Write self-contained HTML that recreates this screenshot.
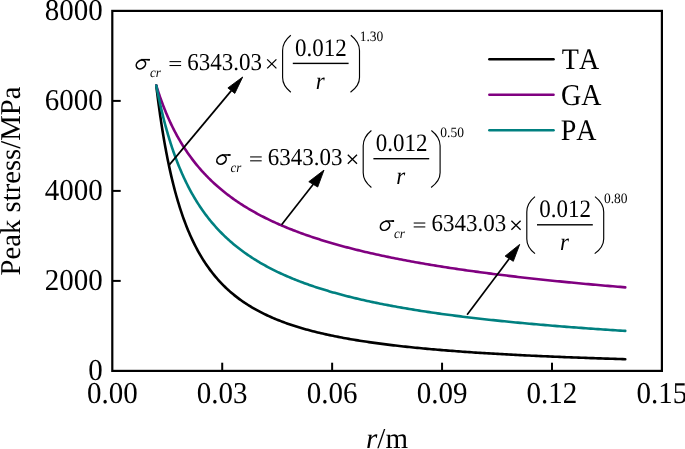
<!DOCTYPE html>
<html><head><meta charset="utf-8"><style>
html,body{margin:0;padding:0;background:#fff;}
svg{display:block;will-change:transform;}
text{font-family:"Liberation Serif",serif;fill:#000;font-kerning:none;text-rendering:geometricPrecision;}
</style></head><body>
<svg width="685" height="449" viewBox="0 0 685 449">
<rect x="0" y="0" width="685" height="449" fill="#fff"/>
<polyline points="156.27,85.46 156.32,85.89 156.42,86.76 156.56,87.94 156.74,89.37 156.94,91.02 157.17,92.86 157.42,94.87 157.69,97.03 157.98,99.32 158.30,101.74 158.63,104.26 158.99,106.89 159.36,109.59 159.75,112.37 160.15,115.22 160.58,118.13 161.02,121.09 161.47,124.08 161.94,127.12 162.43,130.18 162.93,133.27 163.44,136.37 163.97,139.49 164.51,142.61 165.07,145.73 165.64,148.85 166.22,151.97 166.82,155.08 167.43,158.18 168.05,161.26 168.68,164.32 169.33,167.36 169.99,170.38 170.66,173.37 171.34,176.34 172.04,179.27 172.75,182.18 173.46,185.06 174.19,187.90 174.93,190.71 175.69,193.49 176.45,196.23 177.22,198.93 178.01,201.60 178.81,204.23 179.61,206.82 180.43,209.37 181.26,211.89 182.10,214.37 182.94,216.81 183.80,219.21 184.67,221.57 185.55,223.90 186.44,226.18 187.34,228.43 188.25,230.64 189.17,232.82 190.09,234.96 191.03,237.06 191.98,239.12 192.94,241.15 193.90,243.15 194.88,245.11 195.86,247.03 196.86,248.92 197.86,250.78 198.88,252.60 199.90,254.40 200.93,256.15 201.97,257.88 203.02,259.58 204.08,261.24 205.14,262.88 206.22,264.48 207.30,266.06 208.40,267.61 209.50,269.13 210.61,270.62 211.73,272.08 212.85,273.52 213.99,274.93 215.14,276.32 216.29,277.68 217.45,279.02 218.62,280.33 219.80,281.62 220.98,282.88 222.18,284.12 223.38,285.34 224.59,286.54 225.81,287.71 227.04,288.87 228.27,290.00 229.51,291.12 230.76,292.21 232.02,293.28 233.29,294.34 234.56,295.37 235.85,296.39 237.14,297.39 238.43,298.37 239.74,299.34 241.05,300.28 242.37,301.21 243.70,302.13 245.04,303.03 246.38,303.91 247.73,304.78 249.09,305.63 250.46,306.47 251.83,307.29 253.21,308.10 254.60,308.90 256.00,309.68 257.40,310.45 258.81,311.20 260.23,311.95 261.65,312.68 263.09,313.39 264.53,314.10 265.97,314.79 267.43,315.48 268.89,316.15 270.36,316.81 271.83,317.46 273.32,318.10 274.81,318.73 276.30,319.34 277.81,319.95 279.32,320.55 280.84,321.14 282.36,321.72 283.89,322.29 285.43,322.85 286.98,323.40 288.53,323.94 290.09,324.48 291.66,325.01 293.23,325.52 294.81,326.03 296.40,326.54 297.99,327.03 299.59,327.52 301.20,328.00 302.81,328.47 304.43,328.93 306.06,329.39 307.69,329.84 309.33,330.28 310.98,330.72 312.63,331.15 314.29,331.58 315.96,331.99 317.63,332.41 319.31,332.81 321.00,333.21 322.69,333.60 324.39,333.99 326.10,334.38 327.81,334.75 329.53,335.12 331.25,335.49 332.98,335.85 334.72,336.21 336.46,336.56 338.21,336.90 339.97,337.24 341.73,337.58 343.50,337.91 345.28,338.24 347.06,338.56 348.85,338.88 350.65,339.19 352.45,339.50 354.25,339.80 356.07,340.10 357.89,340.40 359.71,340.69 361.54,340.98 363.38,341.26 365.23,341.54 367.08,341.82 368.93,342.09 370.79,342.36 372.66,342.63 374.54,342.89 376.42,343.15 378.30,343.41 380.20,343.66 382.10,343.91 384.00,344.15 385.91,344.40 387.83,344.64 389.75,344.87 391.68,345.11 393.61,345.34 395.55,345.56 397.50,345.79 399.45,346.01 401.41,346.23 403.38,346.44 405.34,346.66 407.32,346.87 409.30,347.08 411.29,347.28 413.28,347.49 415.28,347.69 417.29,347.88 419.30,348.08 421.31,348.27 423.34,348.46 425.36,348.65 427.40,348.84 429.44,349.02 431.48,349.21 433.53,349.39 435.59,349.56 437.65,349.74 439.72,349.91 441.80,350.08 443.87,350.25 445.96,350.42 448.05,350.59 450.15,350.75 452.25,350.91 454.36,351.07 456.47,351.23 458.59,351.39 460.71,351.54 462.84,351.69 464.98,351.85 467.12,351.99 469.27,352.14 471.42,352.29 473.58,352.43 475.74,352.58 477.91,352.72 480.08,352.86 482.26,352.99 484.45,353.13 486.64,353.27 488.83,353.40 491.03,353.53 493.24,353.66 495.45,353.79 497.67,353.92 499.89,354.05 502.12,354.17 504.36,354.30 506.60,354.42 508.84,354.54 511.09,354.66 513.35,354.78 515.61,354.89 517.87,355.01 520.15,355.13 522.42,355.24 524.70,355.35 526.99,355.46 529.29,355.57 531.58,355.68 533.89,355.79 536.20,355.90 538.51,356.00 540.83,356.11 543.15,356.21 545.48,356.31 547.82,356.42 550.16,356.52 552.50,356.62 554.85,356.71 557.21,356.81 559.57,356.91 561.94,357.00 564.31,357.10 566.69,357.19 569.07,357.29 571.45,357.38 573.85,357.47 576.24,357.56 578.65,357.65 581.05,357.74 583.47,357.82 585.88,357.91 588.31,358.00 590.74,358.08 593.17,358.17 595.61,358.25 598.05,358.33 600.50,358.41 602.95,358.50 605.41,358.58 607.87,358.66 610.34,358.73 612.82,358.81 615.29,358.89 617.78,358.97 620.27,359.04 622.76,359.12 625.26,359.19" fill="none" stroke="#000" stroke-width="2.6" stroke-linejoin="round" stroke-linecap="round"/>
<polyline points="156.27,85.46 156.32,85.63 156.42,85.96 156.56,86.42 156.74,86.97 156.94,87.61 157.17,88.33 157.42,89.12 157.69,89.97 157.98,90.88 158.30,91.84 158.63,92.85 158.99,93.90 159.36,95.00 159.75,96.13 160.15,97.30 160.58,98.50 161.02,99.73 161.47,100.99 161.94,102.27 162.43,103.57 162.93,104.89 163.44,106.23 163.97,107.59 164.51,108.96 165.07,110.35 165.64,111.74 166.22,113.15 166.82,114.56 167.43,115.98 168.05,117.41 168.68,118.84 169.33,120.27 169.99,121.71 170.66,123.15 171.34,124.59 172.04,126.02 172.75,127.46 173.46,128.89 174.19,130.32 174.93,131.75 175.69,133.17 176.45,134.59 177.22,136.01 178.01,137.41 178.81,138.81 179.61,140.21 180.43,141.60 181.26,142.98 182.10,144.35 182.94,145.71 183.80,147.07 184.67,148.42 185.55,149.76 186.44,151.09 187.34,152.41 188.25,153.72 189.17,155.02 190.09,156.31 191.03,157.60 191.98,158.87 192.94,160.13 193.90,161.38 194.88,162.62 195.86,163.85 196.86,165.08 197.86,166.29 198.88,167.49 199.90,168.68 200.93,169.86 201.97,171.03 203.02,172.19 204.08,173.33 205.14,174.47 206.22,175.60 207.30,176.72 208.40,177.83 209.50,178.92 210.61,180.01 211.73,181.09 212.85,182.15 213.99,183.21 215.14,184.26 216.29,185.30 217.45,186.32 218.62,187.34 219.80,188.35 220.98,189.35 222.18,190.34 223.38,191.32 224.59,192.29 225.81,193.25 227.04,194.20 228.27,195.15 229.51,196.08 230.76,197.01 232.02,197.92 233.29,198.83 234.56,199.73 235.85,200.62 237.14,201.50 238.43,202.38 239.74,203.24 241.05,204.10 242.37,204.95 243.70,205.79 245.04,206.62 246.38,207.45 247.73,208.26 249.09,209.07 250.46,209.88 251.83,210.67 253.21,211.46 254.60,212.24 256.00,213.01 257.40,213.78 258.81,214.53 260.23,215.28 261.65,216.03 263.09,216.77 264.53,217.50 265.97,218.22 267.43,218.94 268.89,219.65 270.36,220.35 271.83,221.05 273.32,221.74 274.81,222.43 276.30,223.11 277.81,223.78 279.32,224.45 280.84,225.11 282.36,225.76 283.89,226.41 285.43,227.06 286.98,227.69 288.53,228.33 290.09,228.95 291.66,229.57 293.23,230.19 294.81,230.80 296.40,231.41 297.99,232.01 299.59,232.60 301.20,233.19 302.81,233.77 304.43,234.35 306.06,234.93 307.69,235.50 309.33,236.06 310.98,236.62 312.63,237.18 314.29,237.73 315.96,238.27 317.63,238.82 319.31,239.35 321.00,239.89 322.69,240.41 324.39,240.94 326.10,241.46 327.81,241.97 329.53,242.48 331.25,242.99 332.98,243.49 334.72,243.99 336.46,244.49 338.21,244.98 339.97,245.46 341.73,245.95 343.50,246.43 345.28,246.90 347.06,247.37 348.85,247.84 350.65,248.30 352.45,248.77 354.25,249.22 356.07,249.68 357.89,250.13 359.71,250.57 361.54,251.01 363.38,251.45 365.23,251.89 367.08,252.32 368.93,252.75 370.79,253.18 372.66,253.60 374.54,254.02 376.42,254.44 378.30,254.85 380.20,255.26 382.10,255.67 384.00,256.08 385.91,256.48 387.83,256.88 389.75,257.27 391.68,257.66 393.61,258.06 395.55,258.44 397.50,258.83 399.45,259.21 401.41,259.59 403.38,259.96 405.34,260.34 407.32,260.71 409.30,261.08 411.29,261.44 413.28,261.80 415.28,262.17 417.29,262.52 419.30,262.88 421.31,263.23 423.34,263.58 425.36,263.93 427.40,264.28 429.44,264.62 431.48,264.96 433.53,265.30 435.59,265.64 437.65,265.97 439.72,266.30 441.80,266.63 443.87,266.96 445.96,267.28 448.05,267.61 450.15,267.93 452.25,268.25 454.36,268.56 456.47,268.88 458.59,269.19 460.71,269.50 462.84,269.81 464.98,270.12 467.12,270.42 469.27,270.72 471.42,271.02 473.58,271.32 475.74,271.62 477.91,271.91 480.08,272.21 482.26,272.50 484.45,272.79 486.64,273.08 488.83,273.36 491.03,273.65 493.24,273.93 495.45,274.21 497.67,274.49 499.89,274.76 502.12,275.04 504.36,275.31 506.60,275.58 508.84,275.85 511.09,276.12 513.35,276.39 515.61,276.65 517.87,276.92 520.15,277.18 522.42,277.44 524.70,277.70 526.99,277.96 529.29,278.21 531.58,278.47 533.89,278.72 536.20,278.97 538.51,279.22 540.83,279.47 543.15,279.72 545.48,279.96 547.82,280.21 550.16,280.45 552.50,280.69 554.85,280.93 557.21,281.17 559.57,281.41 561.94,281.64 564.31,281.88 566.69,282.11 569.07,282.34 571.45,282.57 573.85,282.80 576.24,283.03 578.65,283.26 581.05,283.48 583.47,283.71 585.88,283.93 588.31,284.15 590.74,284.37 593.17,284.59 595.61,284.81 598.05,285.02 600.50,285.24 602.95,285.45 605.41,285.67 607.87,285.88 610.34,286.09 612.82,286.30 615.29,286.51 617.78,286.72 620.27,286.92 622.76,287.13 625.26,287.33" fill="none" stroke="#800080" stroke-width="2.6" stroke-linejoin="round" stroke-linecap="round"/>
<polyline points="156.27,85.46 156.32,85.73 156.42,86.26 156.56,86.99 156.74,87.88 156.94,88.90 157.17,90.04 157.42,91.29 157.69,92.64 157.98,94.07 158.30,95.59 158.63,97.18 158.99,98.84 159.36,100.56 159.75,102.34 160.15,104.16 160.58,106.03 161.02,107.94 161.47,109.89 161.94,111.87 162.43,113.88 162.93,115.91 163.44,117.96 163.97,120.04 164.51,122.13 165.07,124.23 165.64,126.34 166.22,128.46 166.82,130.58 167.43,132.71 168.05,134.83 168.68,136.96 169.33,139.09 169.99,141.21 170.66,143.33 171.34,145.43 172.04,147.54 172.75,149.63 173.46,151.71 174.19,153.78 174.93,155.84 175.69,157.88 176.45,159.91 177.22,161.93 178.01,163.93 178.81,165.91 179.61,167.88 180.43,169.83 181.26,171.76 182.10,173.68 182.94,175.58 183.80,177.45 184.67,179.31 185.55,181.16 186.44,182.98 187.34,184.78 188.25,186.57 189.17,188.33 190.09,190.07 191.03,191.80 191.98,193.51 192.94,195.19 193.90,196.86 194.88,198.51 195.86,200.13 196.86,201.74 197.86,203.33 198.88,204.90 199.90,206.45 200.93,207.99 201.97,209.50 203.02,210.99 204.08,212.47 205.14,213.93 206.22,215.37 207.30,216.79 208.40,218.19 209.50,219.58 210.61,220.95 211.73,222.30 212.85,223.64 213.99,224.95 215.14,226.25 216.29,227.54 217.45,228.81 218.62,230.06 219.80,231.29 220.98,232.51 222.18,233.72 223.38,234.91 224.59,236.08 225.81,237.24 227.04,238.39 228.27,239.52 229.51,240.63 230.76,241.73 232.02,242.82 233.29,243.89 234.56,244.95 235.85,246.00 237.14,247.03 238.43,248.06 239.74,249.06 241.05,250.06 242.37,251.04 243.70,252.01 245.04,252.97 246.38,253.92 247.73,254.85 249.09,255.77 250.46,256.69 251.83,257.59 253.21,258.48 254.60,259.35 256.00,260.22 257.40,261.08 258.81,261.93 260.23,262.76 261.65,263.59 263.09,264.41 264.53,265.21 265.97,266.01 267.43,266.80 268.89,267.57 270.36,268.34 271.83,269.10 273.32,269.85 274.81,270.59 276.30,271.33 277.81,272.05 279.32,272.77 280.84,273.48 282.36,274.18 283.89,274.87 285.43,275.55 286.98,276.23 288.53,276.89 290.09,277.55 291.66,278.21 293.23,278.85 294.81,279.49 296.40,280.12 297.99,280.74 299.59,281.36 301.20,281.97 302.81,282.57 304.43,283.17 306.06,283.76 307.69,284.34 309.33,284.92 310.98,285.49 312.63,286.06 314.29,286.61 315.96,287.17 317.63,287.71 319.31,288.25 321.00,288.79 322.69,289.32 324.39,289.84 326.10,290.36 327.81,290.87 329.53,291.38 331.25,291.88 332.98,292.38 334.72,292.87 336.46,293.35 338.21,293.83 339.97,294.31 341.73,294.78 343.50,295.25 345.28,295.71 347.06,296.17 348.85,296.62 350.65,297.07 352.45,297.51 354.25,297.95 356.07,298.38 357.89,298.81 359.71,299.24 361.54,299.66 363.38,300.08 365.23,300.49 367.08,300.90 368.93,301.31 370.79,301.71 372.66,302.11 374.54,302.50 376.42,302.89 378.30,303.27 380.20,303.66 382.10,304.04 384.00,304.41 385.91,304.78 387.83,305.15 389.75,305.52 391.68,305.88 393.61,306.24 395.55,306.59 397.50,306.94 399.45,307.29 401.41,307.63 403.38,307.98 405.34,308.31 407.32,308.65 409.30,308.98 411.29,309.31 413.28,309.64 415.28,309.96 417.29,310.28 419.30,310.60 421.31,310.92 423.34,311.23 425.36,311.54 427.40,311.84 429.44,312.15 431.48,312.45 433.53,312.75 435.59,313.04 437.65,313.34 439.72,313.63 441.80,313.92 443.87,314.20 445.96,314.49 448.05,314.77 450.15,315.05 452.25,315.32 454.36,315.60 456.47,315.87 458.59,316.14 460.71,316.41 462.84,316.67 464.98,316.93 467.12,317.20 469.27,317.45 471.42,317.71 473.58,317.96 475.74,318.22 477.91,318.47 480.08,318.71 482.26,318.96 484.45,319.21 486.64,319.45 488.83,319.69 491.03,319.93 493.24,320.16 495.45,320.40 497.67,320.63 499.89,320.86 502.12,321.09 504.36,321.32 506.60,321.54 508.84,321.77 511.09,321.99 513.35,322.21 515.61,322.43 517.87,322.64 520.15,322.86 522.42,323.07 524.70,323.28 526.99,323.49 529.29,323.70 531.58,323.91 533.89,324.11 536.20,324.32 538.51,324.52 540.83,324.72 543.15,324.92 545.48,325.12 547.82,325.32 550.16,325.51 552.50,325.70 554.85,325.90 557.21,326.09 559.57,326.28 561.94,326.46 564.31,326.65 566.69,326.84 569.07,327.02 571.45,327.20 573.85,327.38 576.24,327.56 578.65,327.74 581.05,327.92 583.47,328.10 585.88,328.27 588.31,328.45 590.74,328.62 593.17,328.79 595.61,328.96 598.05,329.13 600.50,329.30 602.95,329.46 605.41,329.63 607.87,329.79 610.34,329.95 612.82,330.12 615.29,330.28 617.78,330.44 620.27,330.60 622.76,330.75 625.26,330.91" fill="none" stroke="#008080" stroke-width="2.6" stroke-linejoin="round" stroke-linecap="round"/>
<rect x="112.3" y="10.9" width="549.60" height="360.00" fill="none" stroke="#000" stroke-width="2.2"/>
<g stroke="#000" stroke-width="2"><line x1="222.22" y1="370.9" x2="222.22" y2="362.7"/><line x1="332.14" y1="370.9" x2="332.14" y2="362.7"/><line x1="442.06" y1="370.9" x2="442.06" y2="362.7"/><line x1="551.98" y1="370.9" x2="551.98" y2="362.7"/><line x1="112.3" y1="280.90" x2="120.7" y2="280.90"/><line x1="112.3" y1="190.90" x2="120.7" y2="190.90"/><line x1="112.3" y1="100.90" x2="120.7" y2="100.90"/></g>
<g transform="translate(102.80,380.10) scale(1,1.045)"><text x="0" y="0" font-size="29" text-anchor="end">0</text></g><g transform="translate(102.80,290.10) scale(1,1.045)"><text x="0" y="0" font-size="29" text-anchor="end">2000</text></g><g transform="translate(102.80,200.10) scale(1,1.045)"><text x="0" y="0" font-size="29" text-anchor="end">4000</text></g><g transform="translate(102.80,110.10) scale(1,1.045)"><text x="0" y="0" font-size="29" text-anchor="end">6000</text></g><g transform="translate(102.80,20.10) scale(1,1.045)"><text x="0" y="0" font-size="29" text-anchor="end">8000</text></g><g transform="translate(112.30,403.20) scale(1,1.045)"><text x="0" y="0" font-size="29" text-anchor="middle">0.00</text></g><g transform="translate(222.22,403.20) scale(1,1.045)"><text x="0" y="0" font-size="29" text-anchor="middle">0.03</text></g><g transform="translate(332.14,403.20) scale(1,1.045)"><text x="0" y="0" font-size="29" text-anchor="middle">0.06</text></g><g transform="translate(442.06,403.20) scale(1,1.045)"><text x="0" y="0" font-size="29" text-anchor="middle">0.09</text></g><g transform="translate(551.98,403.20) scale(1,1.045)"><text x="0" y="0" font-size="29" text-anchor="middle">0.12</text></g><g transform="translate(661.90,403.20) scale(1,1.045)"><text x="0" y="0" font-size="29" text-anchor="middle">0.15</text></g>
<g transform="translate(387,448)"><text x="0" y="0" font-size="29" text-anchor="middle"><tspan font-style="italic">r</tspan>/m</text></g>
<text transform="translate(19.6,181.0) rotate(-90)" font-size="28.7" text-anchor="middle">Peak stress/MPa</text>
<g stroke-width="2.4" stroke-linecap="round">
<line x1="489.3" y1="59.3" x2="553.6" y2="59.3" stroke="#000"/>
<line x1="489.3" y1="94.8" x2="553.6" y2="94.8" stroke="#800080"/>
<line x1="489.3" y1="130.2" x2="553.6" y2="130.2" stroke="#008080"/>
</g>
<g transform="translate(561.80,69.20) scale(1,1.07)"><text x="0" y="0" font-size="28">TA</text></g>
<g transform="translate(561.00,104.60) scale(1,1.08)"><text x="0" y="0" font-size="28">GA</text></g>
<g transform="translate(560.80,139.80) scale(1,1.07)"><text x="0" y="0" font-size="28">PA</text></g>
<line x1="169.1" y1="165.1" x2="231.35" y2="90.65" stroke="#000" stroke-width="1.7"/>
<polygon points="242.7,77 227.9,87.9 234.8,93.4" fill="#000" stroke="#000" stroke-width="0.9" stroke-linejoin="round"/>
<line x1="281.6" y1="224.8" x2="313.25" y2="184.35" stroke="#000" stroke-width="1.7"/>
<polygon points="324,170.1 308.8,181.7 317.7,187" fill="#000" stroke="#000" stroke-width="0.9" stroke-linejoin="round"/>
<line x1="467.1" y1="314.8" x2="509.20" y2="258.70" stroke="#000" stroke-width="1.7"/>
<polygon points="519.7,244.4 505.1,256.1 513.3,261.3" fill="#000" stroke="#000" stroke-width="0.9" stroke-linejoin="round"/>
<g transform="translate(134.9,70)"><ellipse cx="6.0" cy="-5.5" rx="5.0" ry="4.0" transform="rotate(-37 6.0 -5.5)" fill="none" stroke="#000" stroke-width="1.6"/><path d="M6.2 -10.35 L14.9 -10.35" stroke="#000" stroke-width="1.5"/><path d="M12.5 -11.1 L15 -11.1 L15 -9.5 L12.5 -9.6 Z" fill="#000"/><g transform="translate(15.00,6.50) scale(1,1.06)"><text x="0" y="0" font-size="13" font-style="italic">cr</text></g><rect x="34.6" y="-8.9" width="11.6" height="1.05"/><rect x="34.6" y="-5" width="11.6" height="1.05"/><g transform="translate(52.30,0.00) scale(1,1.06)"><text x="0" y="0" font-size="23">6343.03</text></g><path d="M132.3 -10.6 L141.5 -1.6 M141.5 -10.6 L132.3 -1.6" stroke="#000" stroke-width="1.3"/><path d="M155.9 -34.8 C150.6 -30.5 147.7 -26 147.7 -19.5 L147.7 7.5 C147.7 13.5 150.6 18 155.9 22.2" fill="none" stroke="#000" stroke-width="1.15"/><g transform="translate(160.20,-14.40) scale(1,1.09)"><text x="0" y="0" font-size="23">0.012</text></g><rect x="157.9" y="-7.3" width="55.8" height="1.4"/><g transform="translate(180.80,18.60) scale(1,1.06)"><text x="0" y="0" font-size="23" font-style="italic">r</text></g><path d="M215.9 -34.8 C221.4 -30.5 224.6 -26 224.6 -19.5 L224.6 7.5 C224.6 13.5 221.4 18 215.6 22.2" fill="none" stroke="#000" stroke-width="1.15"/><g transform="translate(224.80,-28.60) scale(1,1.06)"><text x="0" y="0" font-size="13.5">1.30</text></g></g>
<g transform="translate(215.5,165.3)"><ellipse cx="6.0" cy="-5.5" rx="5.0" ry="4.0" transform="rotate(-37 6.0 -5.5)" fill="none" stroke="#000" stroke-width="1.6"/><path d="M6.2 -10.35 L14.9 -10.35" stroke="#000" stroke-width="1.5"/><path d="M12.5 -11.1 L15 -11.1 L15 -9.5 L12.5 -9.6 Z" fill="#000"/><g transform="translate(15.00,6.50) scale(1,1.06)"><text x="0" y="0" font-size="13" font-style="italic">cr</text></g><rect x="34.6" y="-8.9" width="11.6" height="1.05"/><rect x="34.6" y="-5" width="11.6" height="1.05"/><g transform="translate(52.30,0.00) scale(1,1.06)"><text x="0" y="0" font-size="23">6343.03</text></g><path d="M132.3 -10.6 L141.5 -1.6 M141.5 -10.6 L132.3 -1.6" stroke="#000" stroke-width="1.3"/><path d="M155.9 -34.8 C150.6 -30.5 147.7 -26 147.7 -19.5 L147.7 7.5 C147.7 13.5 150.6 18 155.9 22.2" fill="none" stroke="#000" stroke-width="1.15"/><g transform="translate(160.20,-14.40) scale(1,1.09)"><text x="0" y="0" font-size="23">0.012</text></g><rect x="157.9" y="-7.3" width="55.8" height="1.4"/><g transform="translate(180.80,18.60) scale(1,1.06)"><text x="0" y="0" font-size="23" font-style="italic">r</text></g><path d="M215.9 -34.8 C221.4 -30.5 224.6 -26 224.6 -19.5 L224.6 7.5 C224.6 13.5 221.4 18 215.6 22.2" fill="none" stroke="#000" stroke-width="1.15"/><g transform="translate(224.80,-28.60) scale(1,1.06)"><text x="0" y="0" font-size="13.5">0.50</text></g></g>
<g transform="translate(379.1,231.4)"><ellipse cx="6.0" cy="-5.5" rx="5.0" ry="4.0" transform="rotate(-37 6.0 -5.5)" fill="none" stroke="#000" stroke-width="1.6"/><path d="M6.2 -10.35 L14.9 -10.35" stroke="#000" stroke-width="1.5"/><path d="M12.5 -11.1 L15 -11.1 L15 -9.5 L12.5 -9.6 Z" fill="#000"/><g transform="translate(15.00,6.50) scale(1,1.06)"><text x="0" y="0" font-size="13" font-style="italic">cr</text></g><rect x="34.6" y="-8.9" width="11.6" height="1.05"/><rect x="34.6" y="-5" width="11.6" height="1.05"/><g transform="translate(52.30,0.00) scale(1,1.06)"><text x="0" y="0" font-size="23">6343.03</text></g><path d="M132.3 -10.6 L141.5 -1.6 M141.5 -10.6 L132.3 -1.6" stroke="#000" stroke-width="1.3"/><path d="M155.9 -34.8 C150.6 -30.5 147.7 -26 147.7 -19.5 L147.7 7.5 C147.7 13.5 150.6 18 155.9 22.2" fill="none" stroke="#000" stroke-width="1.15"/><g transform="translate(160.20,-14.40) scale(1,1.09)"><text x="0" y="0" font-size="23">0.012</text></g><rect x="157.9" y="-7.3" width="55.8" height="1.4"/><g transform="translate(180.80,18.60) scale(1,1.06)"><text x="0" y="0" font-size="23" font-style="italic">r</text></g><path d="M215.9 -34.8 C221.4 -30.5 224.6 -26 224.6 -19.5 L224.6 7.5 C224.6 13.5 221.4 18 215.6 22.2" fill="none" stroke="#000" stroke-width="1.15"/><g transform="translate(224.80,-28.60) scale(1,1.06)"><text x="0" y="0" font-size="13.5">0.80</text></g></g>
</svg>
</body></html>
